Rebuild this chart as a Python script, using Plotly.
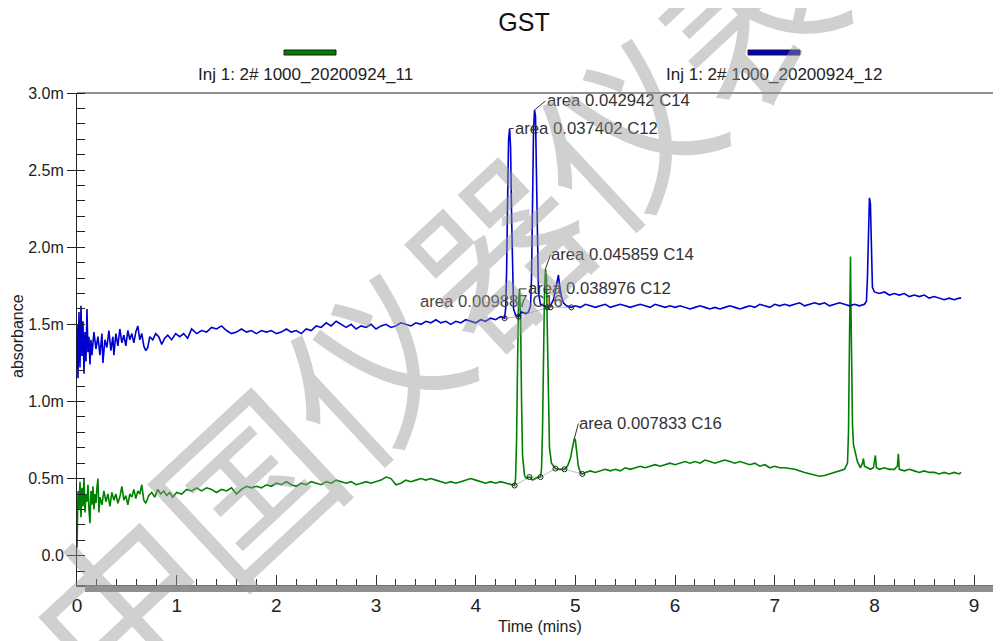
import plotly.graph_objects as go

# ---------------- data (absorbance in milli-units, time in minutes) ----------------
chart_title = "GST"
series_names = ["Inj 1: 2# 1000_20200924_11", "Inj 1: 2# 1000_20200924_12"]
series_colors = ["#008000", "#0000CD"]
watermark_text = "中国仪器仪表"

green_points = [
    (0.00, 0.05), (0.005, 0.24), (0.01, 0.42), (0.02, 0.30), (0.03, 0.48), (0.04, 0.25),
    (0.05, 0.44), (0.06, 0.32), (0.07, 0.50), (0.08, 0.28), (0.09, 0.40), (0.10, 0.35),
    (0.11, 0.46), (0.12, 0.30), (0.13, 0.21), (0.14, 0.42), (0.15, 0.33), (0.16, 0.45),
    (0.17, 0.30), (0.18, 0.40), (0.19, 0.34), (0.20, 0.44), (0.21, 0.50), (0.22, 0.28),
    (0.23, 0.38), (0.25, 0.33), (0.27, 0.42), (0.29, 0.35), (0.31, 0.40), (0.33, 0.32),
    (0.35, 0.41), (0.37, 0.36), (0.39, 0.40), (0.41, 0.34), (0.43, 0.38), (0.45, 0.45),
    (0.47, 0.36), (0.49, 0.39), (0.51, 0.33), (0.53, 0.40), (0.55, 0.38), (0.57, 0.43),
    (0.59, 0.37), (0.61, 0.42), (0.63, 0.40), (0.65, 0.46), (0.67, 0.36), (0.69, 0.34),
    (0.72, 0.39), (0.75, 0.41), (0.78, 0.38), (0.81, 0.43), (0.84, 0.40), (0.87, 0.42),
    (0.90, 0.39), (0.93, 0.41), (0.96, 0.38), (1.00, 0.41), (1.05, 0.40), (1.10, 0.43),
    (1.15, 0.42), (1.20, 0.44), (1.25, 0.42), (1.30, 0.44), (1.35, 0.43), (1.40, 0.41),
    (1.45, 0.43), (1.50, 0.42), (1.55, 0.44), (1.60, 0.40), (1.65, 0.43), (1.70, 0.45),
    (1.75, 0.44), (1.80, 0.45), (1.85, 0.44), (1.90, 0.46), (1.95, 0.45), (2.00, 0.47),
    (2.05, 0.46), (2.10, 0.48), (2.15, 0.46), (2.20, 0.45), (2.25, 0.47), (2.30, 0.46),
    (2.35, 0.48), (2.40, 0.47), (2.45, 0.46), (2.50, 0.48), (2.55, 0.47), (2.60, 0.49),
    (2.65, 0.48), (2.70, 0.47), (2.75, 0.48), (2.80, 0.46), (2.85, 0.47), (2.90, 0.48),
    (2.95, 0.47), (3.00, 0.48), (3.05, 0.49), (3.10, 0.51), (3.15, 0.50), (3.20, 0.46),
    (3.25, 0.47), (3.30, 0.49), (3.35, 0.48), (3.40, 0.49), (3.45, 0.50), (3.50, 0.49),
    (3.55, 0.50), (3.60, 0.49), (3.65, 0.48), (3.70, 0.47), (3.75, 0.48), (3.80, 0.47),
    (3.85, 0.48), (3.90, 0.49), (3.95, 0.50), (4.00, 0.49), (4.05, 0.48), (4.10, 0.47),
    (4.15, 0.48), (4.20, 0.47), (4.25, 0.48), (4.30, 0.47), (4.35, 0.46), (4.39, 0.455),
    (4.40, 0.50), (4.41, 0.75), (4.42, 1.25), (4.43, 1.65), (4.44, 1.73), (4.45, 1.55),
    (4.46, 1.00), (4.47, 0.65), (4.49, 0.52), (4.51, 0.50), (4.54, 0.51), (4.57, 0.49),
    (4.60, 0.50), (4.63, 0.51), (4.65, 0.51), (4.66, 0.56), (4.67, 0.80), (4.68, 1.30),
    (4.69, 1.70), (4.70, 1.86), (4.71, 1.80), (4.72, 1.40), (4.73, 0.95), (4.74, 0.70),
    (4.76, 0.60), (4.80, 0.565), (4.84, 0.56), (4.89, 0.56), (4.92, 0.58), (4.95, 0.63),
    (4.97, 0.70), (4.99, 0.76), (5.00, 0.75), (5.01, 0.68), (5.03, 0.58), (5.05, 0.54),
    (5.07, 0.53), (5.10, 0.54), (5.15, 0.55), (5.20, 0.54), (5.25, 0.55), (5.30, 0.56),
    (5.35, 0.55), (5.40, 0.56), (5.45, 0.55), (5.50, 0.57), (5.55, 0.56), (5.60, 0.57),
    (5.65, 0.58), (5.70, 0.57), (5.75, 0.58), (5.80, 0.59), (5.85, 0.58), (5.90, 0.59),
    (5.95, 0.60), (6.00, 0.59), (6.05, 0.60), (6.10, 0.61), (6.15, 0.60), (6.20, 0.61),
    (6.25, 0.60), (6.30, 0.62), (6.35, 0.61), (6.40, 0.60), (6.45, 0.61), (6.50, 0.62),
    (6.55, 0.61), (6.60, 0.60), (6.65, 0.61), (6.70, 0.60), (6.75, 0.59), (6.80, 0.60),
    (6.85, 0.58), (6.90, 0.59), (6.95, 0.57), (7.00, 0.58), (7.05, 0.57), (7.10, 0.57),
    (7.20, 0.56), (7.30, 0.54), (7.40, 0.52), (7.45, 0.515), (7.50, 0.52), (7.55, 0.53),
    (7.60, 0.54), (7.65, 0.55), (7.70, 0.56), (7.73, 0.60), (7.74, 0.80), (7.75, 1.40),
    (7.76, 1.94), (7.765, 1.60), (7.77, 1.15), (7.78, 0.85), (7.79, 0.72), (7.81, 0.66),
    (7.83, 0.61), (7.86, 0.57), (7.88, 0.60), (7.89, 0.63), (7.90, 0.58), (7.93, 0.57),
    (7.96, 0.56), (7.99, 0.57), (8.00, 0.60), (8.01, 0.65), (8.02, 0.57), (8.05, 0.56),
    (8.10, 0.57), (8.15, 0.56), (8.20, 0.56), (8.23, 0.58), (8.24, 0.66), (8.25, 0.56),
    (8.30, 0.55), (8.35, 0.56), (8.40, 0.55), (8.45, 0.54), (8.50, 0.55), (8.55, 0.54),
    (8.60, 0.54), (8.65, 0.53), (8.70, 0.54), (8.75, 0.53), (8.80, 0.54), (8.85, 0.53),
    (8.87, 0.54),
]

blue_points = [
    (0.00, 1.50), (0.01, 1.15), (0.02, 1.58), (0.03, 1.22), (0.04, 1.62), (0.05, 1.30),
    (0.06, 1.52), (0.07, 1.18), (0.08, 1.45), (0.09, 1.26), (0.10, 1.60), (0.11, 1.32),
    (0.12, 1.42), (0.13, 1.24), (0.14, 1.40), (0.15, 1.30), (0.17, 1.45), (0.19, 1.34),
    (0.21, 1.42), (0.23, 1.30), (0.25, 1.44), (0.26, 1.25), (0.28, 1.40), (0.30, 1.35),
    (0.32, 1.46), (0.34, 1.33), (0.36, 1.42), (0.37, 1.30), (0.39, 1.44), (0.41, 1.36),
    (0.43, 1.47), (0.45, 1.38), (0.47, 1.43), (0.49, 1.36), (0.51, 1.46), (0.53, 1.40),
    (0.55, 1.44), (0.57, 1.38), (0.59, 1.45), (0.61, 1.49), (0.63, 1.40), (0.65, 1.44),
    (0.67, 1.36), (0.69, 1.33), (0.71, 1.35), (0.73, 1.42), (0.76, 1.40), (0.79, 1.44),
    (0.82, 1.42), (0.85, 1.37), (0.88, 1.41), (0.91, 1.43), (0.95, 1.40), (0.99, 1.44),
    (1.03, 1.42), (1.07, 1.44), (1.11, 1.41), (1.15, 1.47), (1.20, 1.44), (1.25, 1.46),
    (1.30, 1.45), (1.35, 1.48), (1.40, 1.47), (1.45, 1.49), (1.50, 1.46), (1.55, 1.44),
    (1.60, 1.45), (1.65, 1.47), (1.70, 1.45), (1.75, 1.46), (1.80, 1.44), (1.85, 1.46),
    (1.90, 1.45), (1.95, 1.46), (2.00, 1.44), (2.05, 1.45), (2.10, 1.47), (2.15, 1.45),
    (2.20, 1.46), (2.25, 1.44), (2.30, 1.47), (2.35, 1.46), (2.40, 1.49), (2.45, 1.48),
    (2.50, 1.51), (2.55, 1.49), (2.60, 1.52), (2.65, 1.50), (2.70, 1.48), (2.75, 1.50),
    (2.80, 1.47), (2.85, 1.49), (2.90, 1.48), (2.95, 1.50), (3.00, 1.47), (3.05, 1.49),
    (3.10, 1.50), (3.15, 1.48), (3.20, 1.49), (3.25, 1.51), (3.30, 1.50), (3.35, 1.49),
    (3.40, 1.51), (3.45, 1.50), (3.50, 1.52), (3.55, 1.51), (3.60, 1.53), (3.65, 1.51),
    (3.70, 1.52), (3.75, 1.50), (3.80, 1.52), (3.85, 1.51), (3.90, 1.53), (3.95, 1.52),
    (4.00, 1.51), (4.05, 1.53), (4.10, 1.52), (4.15, 1.54), (4.20, 1.53), (4.25, 1.55),
    (4.29, 1.54), (4.30, 1.60), (4.31, 1.85), (4.32, 2.30), (4.33, 2.70), (4.34, 2.77),
    (4.35, 2.65), (4.36, 2.20), (4.37, 1.75), (4.38, 1.60), (4.40, 1.56), (4.43, 1.55),
    (4.46, 1.58), (4.50, 1.57), (4.53, 1.58), (4.55, 1.62), (4.56, 1.80), (4.57, 2.30),
    (4.58, 2.75), (4.59, 2.89), (4.60, 2.85), (4.61, 2.45), (4.62, 1.95), (4.63, 1.70),
    (4.65, 1.63), (4.68, 1.62), (4.72, 1.61), (4.75, 1.62), (4.78, 1.66), (4.80, 1.72),
    (4.82, 1.80), (4.83, 1.82), (4.84, 1.76), (4.86, 1.68), (4.88, 1.64), (4.91, 1.62),
    (4.96, 1.61), (5.00, 1.62), (5.05, 1.61), (5.10, 1.63), (5.15, 1.62), (5.20, 1.61),
    (5.25, 1.62), (5.30, 1.63), (5.35, 1.61), (5.40, 1.62), (5.45, 1.63), (5.50, 1.62),
    (5.55, 1.61), (5.60, 1.62), (5.65, 1.63), (5.70, 1.62), (5.75, 1.61), (5.80, 1.63),
    (5.85, 1.62), (5.90, 1.61), (5.95, 1.62), (6.00, 1.61), (6.05, 1.62), (6.10, 1.61),
    (6.15, 1.60), (6.20, 1.61), (6.25, 1.62), (6.30, 1.61), (6.35, 1.60), (6.40, 1.61),
    (6.45, 1.60), (6.50, 1.61), (6.55, 1.62), (6.60, 1.61), (6.65, 1.60), (6.70, 1.61),
    (6.75, 1.62), (6.80, 1.61), (6.85, 1.63), (6.90, 1.62), (6.95, 1.61), (7.00, 1.63),
    (7.05, 1.62), (7.10, 1.63), (7.15, 1.62), (7.20, 1.63), (7.25, 1.64), (7.30, 1.62),
    (7.35, 1.63), (7.40, 1.64), (7.45, 1.63), (7.50, 1.64), (7.55, 1.62), (7.60, 1.63),
    (7.65, 1.64), (7.70, 1.63), (7.75, 1.62), (7.80, 1.63), (7.85, 1.62), (7.90, 1.63),
    (7.92, 1.65), (7.93, 1.80), (7.94, 2.10), (7.95, 2.32), (7.96, 2.28), (7.97, 1.95),
    (7.98, 1.74), (8.00, 1.71), (8.05, 1.70), (8.10, 1.71), (8.15, 1.69), (8.20, 1.70),
    (8.25, 1.69), (8.30, 1.70), (8.35, 1.68), (8.40, 1.69), (8.45, 1.68), (8.50, 1.69),
    (8.55, 1.67), (8.60, 1.68), (8.65, 1.67), (8.70, 1.66), (8.75, 1.67), (8.80, 1.66),
    (8.85, 1.67), (8.87, 1.67),
]

# peak integration boundary markers
green_marks_t = [4.39, 4.54, 4.65, 4.80, 4.89, 5.07]
green_marks_v = [0.455, 0.51, 0.51, 0.565, 0.56, 0.53]
blue_marks_t = [4.29, 4.43, 4.72, 4.75, 4.96]
blue_marks_v = [1.54, 1.55, 1.61, 1.61, 1.61]

# peak labels: apex time, apex value, text
peak_label_t = [4.59, 4.34, 4.70, 4.44, 4.86, 4.99]
peak_label_v = [2.89, 2.77, 1.86, 1.73, 1.82, 0.76]
peak_label_text = ["area 0.042942 C14", "area 0.037402 C12", "area 0.045859 C14",
                   "area 0.038976 C12", "area 0.009887 C16", "area 0.007833 C16"]

y_tick_vals = [0.0, 0.5, 1.0, 1.5, 2.0, 2.5, 3.0]
y_tick_text = ["0.0", "0.5m", "1.0m", "1.5m", "2.0m", "2.5m", "3.0m"]
x_tick_vals = [0, 1, 2, 3, 4, 5, 6, 7, 8, 9]

# ---------------- figure ----------------
FONT = "Liberation Sans, Arial, sans-serif"
NARROW = "Liberation Sans Narrow, Arial Narrow, Liberation Sans, sans-serif"
OFF = 8  # page body margin of the html page

# plot-area edges in page pixels
L, R, T, B = 77, 1001, 93, 585
FIG_W, FIG_H = 1001 - OFF, 641 - OFF
PW, PH = R - L, B - T


def px(xp):
    return (xp - L) / PW


def py(yp):
    return (B - yp) / PH


y_min, y_max = -0.19, 3.0
x_min, x_max = 0, 9.27

fig = go.Figure()

# gray integration baselines
fig.add_trace(go.Scatter(x=blue_marks_t, y=blue_marks_v, mode="lines",
                         line=dict(color="#bdbdbd", width=1), hoverinfo="skip", showlegend=False))
fig.add_trace(go.Scatter(x=green_marks_t, y=green_marks_v, mode="lines",
                         line=dict(color="#bdbdbd", width=1), hoverinfo="skip", showlegend=False))

fig.add_trace(go.Scatter(x=[p[0] for p in green_points], y=[p[1] for p in green_points],
                         mode="lines", name=series_names[0],
                         line=dict(color=series_colors[0], width=1.6), showlegend=False))
fig.add_trace(go.Scatter(x=[p[0] for p in blue_points], y=[p[1] for p in blue_points],
                         mode="lines", name=series_names[1],
                         line=dict(color=series_colors[1], width=1.6), showlegend=False))

fig.add_trace(go.Scatter(x=green_marks_t + blue_marks_t, y=green_marks_v + blue_marks_v,
                         mode="markers",
                         marker=dict(symbol="circle-open", size=5, color="#222", line=dict(width=1)),
                         hoverinfo="skip", showlegend=False))
# dummy trace for the inner major ticks on the y axis
fig.add_trace(go.Scatter(x=[None], y=[None], yaxis="y2", showlegend=False, hoverinfo="skip"))

fig.update_layout(
    width=FIG_W, height=FIG_H,
    margin=dict(l=L - OFF, r=0, t=T - OFF, b=FIG_H - (B - OFF), autoexpand=False),
    paper_bgcolor="white", plot_bgcolor="white",
    font=dict(family=FONT, size=16, color="#222"),
    title=dict(text=chart_title, x=(524 - OFF) / FIG_W, y=1 - (22 - OFF) / FIG_H,
               xanchor="center", yanchor="middle", font=dict(size=25, color="#111")),
    xaxis=dict(range=[x_min, x_max], showgrid=False, zeroline=False,
               showline=True, linecolor="#555", linewidth=2,
               tickmode="array", tickvals=x_tick_vals, ticks="inside", ticklen=10, tickcolor="#333",
               tickwidth=1, ticklabelstandoff=2,
               minor=dict(ticks="inside", ticklen=6, dtick=0.2, tickcolor="#333", showgrid=False),
               tickfont=dict(size=19, family=NARROW)),
    yaxis=dict(range=[y_min, y_max], showgrid=False, zeroline=False,
               showline=True, linecolor="#222", linewidth=1,
               tickmode="array", tickvals=y_tick_vals, ticktext=y_tick_text,
               ticks="outside", ticklen=9, tickcolor="#222",
               minor=dict(ticks="inside", ticklen=8, dtick=0.1, tickcolor="#222", showgrid=False),
               tickfont=dict(size=16)),
    yaxis2=dict(range=[y_min, y_max], overlaying="y", side="left", showgrid=False, zeroline=False,
                showline=False, tickmode="array", tickvals=y_tick_vals, ticks="inside", ticklen=8,
                tickcolor="#222", showticklabels=False),
    showlegend=False,
)

shapes = []
# top frame line
shapes.append(dict(type="line", xref="paper", yref="paper", x0=0, x1=1, y0=1, y1=1,
                   line=dict(color="#222", width=1)))
# gray scroll bar under x axis
shapes.append(dict(type="rect", xref="paper", yref="paper", x0=px(85), x1=1, y0=py(592), y1=py(585.5),
                   fillcolor="#8f8f8f", line=dict(width=0), layer="above"))
# legend swatches
shapes.append(dict(type="rect", xref="paper", yref="paper", x0=px(284), x1=px(336), y0=py(55), y1=py(50),
                   fillcolor=series_colors[0], line=dict(color="#1a1a1a", width=1)))
shapes.append(dict(type="rect", xref="paper", yref="paper", x0=px(748), x1=px(800), y0=py(55), y1=py(50),
                   fillcolor=series_colors[1], line=dict(color="#1a1a1a", width=1)))
fig.update_layout(shapes=shapes)

ann = []
ann.append(dict(text=series_names[0], xref="paper", yref="paper", x=px(305), y=py(75),
                xanchor="center", yanchor="middle", showarrow=False, font=dict(size=17)))
ann.append(dict(text=series_names[1], xref="paper", yref="paper", x=px(774), y=py(75),
                xanchor="center", yanchor="middle", showarrow=False, font=dict(size=17)))
ann.append(dict(text="absorbance", xref="paper", yref="paper", x=px(17), y=py(336), textangle=-90,
                xanchor="center", yanchor="middle", showarrow=False, font=dict(size=16)))
ann.append(dict(text="Time (mins)", xref="paper", yref="paper", x=px(540), y=py(626),
                xanchor="center", yanchor="middle", showarrow=False, font=dict(size=16)))

# peak label offsets in pixels (from apex to text left/middle); None = no leader line
label_ax = [11, 4, 5, 7, None, 4]
label_ay = [-9, 0, -14, 0, 27, -15]
label_xs = [0, 0, 0, 0, -142, 0]
for t, v, txt, ax, ay, xs in zip(peak_label_t, peak_label_v, peak_label_text, label_ax, label_ay, label_xs):
    if ax is None:
        ann.append(dict(text=txt, x=t, y=v, xref="x", yref="y", showarrow=False,
                        xanchor="left", yanchor="middle", xshift=xs, yshift=-ay, borderpad=0,
                        font=dict(size=16.7, color="#444")))
    else:
        ann.append(dict(text=txt, x=t, y=v, xref="x", yref="y", showarrow=True, arrowhead=0,
                        arrowwidth=1, arrowcolor="#333", ax=ax, ay=ay, xanchor="left", yanchor="middle",
                        standoff=0, startstandoff=0, borderpad=0, font=dict(size=16.7, color="#333")))

# faint diagonal site watermark lying over the chart
ann.append(dict(text=watermark_text, xref="paper", yref="paper", x=px(430), y=py(305),
                xanchor="center", yanchor="middle", showarrow=False, textangle=-43,
                font=dict(size=172, family="Noto Sans CJK SC", color="rgba(150,150,150,0.45)")))
fig.update_layout(annotations=ann)

fig.write_html("out.html")
